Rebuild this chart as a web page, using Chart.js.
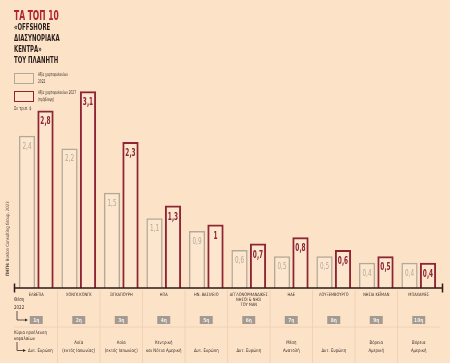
<!DOCTYPE html>
<html>
<head>
<meta charset="utf-8">
<script src="https://cdn.jsdelivr.net/npm/chart.js@4/dist/chart.umd.min.js"></script>
<style>
  html, body { margin: 0; padding: 0; background: #fce3c8; }
  #wrap { position: relative; width: 450px; height: 363px; overflow: hidden; }
  canvas { position: absolute; left: 0; top: 0; }
  .h { position: absolute; left: 14px; white-space: nowrap; transform-origin: 0 0;
       font-family: "DejaVu Sans", sans-serif; font-weight: bold; }
  .title { top: 7px; font-size: 14px; color: #b0232f; transform: scaleX(0.54); }
  .sub { font-size: 9px; color: #2b1d1a; transform: scaleX(0.6); line-height: 11px; }
  .leg { position: absolute; left: 38px; font-family: "DejaVu Sans", sans-serif; font-size: 5px;
         color: #3b2a25; line-height: 7px; transform: scaleX(0.57); transform-origin: 0 0; white-space: nowrap; }
  .box { position: absolute; left: 14px; width: 18px; height: 9px; }
  .unit { position: absolute; left: 14px; top: 105px; font-family: "DejaVu Sans", sans-serif;
          font-size: 5px; color: #3b2a25; transform: scaleX(0.7); transform-origin: 0 0; white-space: nowrap; }
  .src { position: absolute; left: 5px; top: 276px; font-family: "DejaVu Sans", sans-serif; font-size: 4.5px;
         color: #4a3a33; white-space: nowrap; transform: rotate(-90deg) scaleX(0.85); transform-origin: 0 0; }
</style>
</head>
<body>
<div id="wrap">
  <canvas id="c" width="450" height="363"></canvas>
  <div class="h title">ΤΑ ΤΟΠ 10</div>
  <div class="h sub" style="top:22px">«OFFSHORE</div>
  <div class="h sub" style="top:33px">ΔΙΑΣΥΝΟΡΙΑΚΑ</div>
  <div class="h sub" style="top:44px">ΚΕΝΤΡΑ»</div>
  <div class="h sub" style="top:55px">ΤΟΥ ΠΛΑΝΗΤΗ</div>
  <div class="box" style="top:73px;border:1.5px solid #b3a899"></div>
  <div class="leg" style="top:71px">Αξία χαρτοφυλακίων<br>2022</div>
  <div class="box" style="top:91px;border:1.5px solid #8e2434"></div>
  <div class="leg" style="top:89px">Αξία χαρτοφυλακίων 2027<br>(πρόβλεψη)</div>
  <div class="unit">Σε τρισ. $</div>
  <div class="src"><b>ΠΗΓΗ:</b> Boston Consulting Group, 2023</div>
</div>
<script>
const categories = [
  ['ΕΛΒΕΤΙΑ'], ['ΧΟΝΓΚ ΚΟΝΓΚ'], ['ΣΙΓΚΑΠΟΥΡΗ'], ['ΗΠΑ'], ['ΗΝ. ΒΑΣΙΛΕΙΟ'],
  ['ΑΓΓΛΟΝΟΡΜΑΝΔΙΚΕΣ', 'ΝΗΣΟΙ & ΝΗΣΙ', 'ΤΟΥ ΜΑΝ'], ['ΗΑΕ'], ['ΛΟΥΞΕΜΒΟΥΡΓΟ'],
  ['ΝΗΣΙΑ ΚΕΪΜΑΝ'], ['ΜΠΑΧΑΜΕΣ']
];
const values2022 = [2.4, 2.2, 1.5, 1.1, 0.9, 0.6, 0.5, 0.5, 0.4, 0.4];
const values2027 = [2.8, 3.1, 2.3, 1.3, 1.0, 0.7, 0.8, 0.6, 0.5, 0.4];
const ranks2022 = ['1η', '2η', '3η', '4η', '5η', '6η', '7η', '8η', '9η', '10η'];
const origins = [
  ['Δυτ. Ευρώπη'], ['Ασία', '(εκτός Ιαπωνίας)'], ['Ασία', '(εκτός Ιαπωνίας)'],
  ['Κεντρική', 'και Νότια Αμερική'], ['Δυτ. Ευρώπη'], ['Δυτ. Ευρώπη'],
  ['Μέση', 'Ανατολή'], ['Δυτ. Ευρώπη'], ['Βόρεια', 'Αμερική'], ['Βόρεια', 'Αμερική']
];

const GREY = '#b3a899';
const RED = '#8e2434';
const DARK = '#3b2a25';
const FONT = '"DejaVu Sans", sans-serif';

// squeezed text helper (the original uses a condensed face)
function txt(ctx, s, x, y, size, color, opts = {}) {
  ctx.save();
  ctx.font = (opts.bold ? 'bold ' : '') + size + 'px ' + FONT;
  ctx.fillStyle = color;
  ctx.textAlign = opts.align || 'center';
  ctx.textBaseline = 'middle';
  ctx.translate(x, y);
  ctx.scale(opts.sx || 0.75, 1);
  ctx.fillText(s, 0, 0);
  ctx.restore();
}

function arrow(ctx, x, y1, y2, x2) {
  ctx.save();
  ctx.strokeStyle = DARK; ctx.fillStyle = DARK; ctx.lineWidth = 0.8;
  ctx.beginPath(); ctx.moveTo(x, y1); ctx.lineTo(x, y2); ctx.lineTo(x2 - 2, y2); ctx.stroke();
  ctx.beginPath(); ctx.moveTo(x2, y2); ctx.lineTo(x2 - 3, y2 - 1.6); ctx.lineTo(x2 - 3, y2 + 1.6); ctx.closePath(); ctx.fill();
  ctx.restore();
}

const annotate = {
  id: 'annotate',
  beforeDatasetsDraw(chart) {
    const { ctx, chartArea: a } = chart;
    const xs = chart.scales.x;
    const step = (a.right - a.left) / categories.length;
    ctx.save();
    // column separators and row line under the axis
    ctx.strokeStyle = '#efcdb0'; ctx.lineWidth = 0.8;
    for (let i = 1; i < categories.length; i++) {
      const x = a.left + step * i;
      ctx.beginPath(); ctx.moveTo(x, a.bottom + 2); ctx.lineTo(x, 363); ctx.stroke();
    }
    ctx.beginPath(); ctx.moveTo(14, 327); ctx.lineTo(a.right, 327); ctx.stroke();
    ctx.restore();

    categories.forEach((lines, i) => {
      const cx = xs.getPixelForValue(i);
      lines.forEach((l, j) => txt(ctx, l, cx, 295 + j * 4.7, 4.6, DARK, { sx: 0.78 }));
      // rank boxes
      ctx.fillStyle = '#a39a92';
      ctx.fillRect(cx - 6.5, 316, 13, 8);
      txt(ctx, ranks2022[i], cx, 320.3, 5.5, '#f4ece4', { bold: true, sx: 0.8 });
      // origin
      const o = origins[i];
      if (i === 0) {
        txt(ctx, o[0], 28, 350.5, 4.8, DARK, { align: 'left', sx: 0.8 });
      } else if (o.length === 1) {
        txt(ctx, o[0], cx, 350.5, 4.8, DARK, { sx: 0.8 });
      } else {
        txt(ctx, o[0], cx, 343, 4.8, DARK, { sx: 0.8 });
        txt(ctx, o[1], cx, 350.5, 4.8, DARK, { sx: 0.8 });
      }
    });

    txt(ctx, 'Θέση', 14, 300, 5, DARK, { align: 'left', sx: 0.8 });
    txt(ctx, '2022', 14, 307.5, 5, DARK, { align: 'left', sx: 0.8 });
    arrow(ctx, 17, 311, 320, 28);
    txt(ctx, 'Κύρια προέλευση', 14, 332.5, 4.8, DARK, { align: 'left', sx: 0.8 });
    txt(ctx, 'κεφαλαίων', 14, 338.5, 4.8, DARK, { align: 'left', sx: 0.8 });
    arrow(ctx, 17, 342, 350.5, 26);
  },
  afterDatasetsDraw(chart) {
    const { ctx, chartArea: a } = chart;
    // baseline with end ticks
    ctx.save();
    ctx.strokeStyle = '#2a1a18'; ctx.lineWidth = 1.5;
    ctx.beginPath(); ctx.moveTo(14, a.bottom); ctx.lineTo(443, a.bottom); ctx.stroke();
    ctx.beginPath(); ctx.moveTo(14.5, a.bottom - 4.5); ctx.lineTo(14.5, a.bottom + 4.5);
    ctx.moveTo(442.5, a.bottom - 4.5); ctx.lineTo(442.5, a.bottom + 4.5); ctx.stroke();
    ctx.restore();
    // value labels inside the bar tops
    chart.data.datasets.forEach((ds, di) => {
      chart.getDatasetMeta(di).data.forEach((bar, i) => {
        const s = String(ds.data[i]).replace('.', ',');
        if (di === 0) txt(ctx, s, bar.x, bar.y + 10.5, 9.5, '#b3a899', { sx: 0.6 });
        else txt(ctx, s, bar.x, bar.y + 11.5, 10, RED, { bold: true, sx: 0.58 });
      });
    });
  }
};

new Chart(document.getElementById('c'), {
  type: 'bar',
  data: {
    labels: categories.map(c => c.join(' ')),
    datasets: [
      { label: 'Αξία χαρτοφυλακίων 2022', data: values2022, backgroundColor: 'rgba(255,255,255,0.12)',
        borderColor: GREY, borderWidth: 1.5 },
      { label: 'Αξία χαρτοφυλακίων 2027 (πρόβλεψη)', data: values2027, backgroundColor: 'rgba(255,255,255,0.12)',
        borderColor: RED, borderWidth: 2 }
    ]
  },
  options: {
    responsive: false,
    animation: false,
    devicePixelRatio: 1,
    categoryPercentage: 0.87,
    barPercentage: 0.88,
    layout: { padding: { left: 15, right: 10, top: 66, bottom: 75 } },
    scales: {
      x: { display: false },
      y: { display: false, min: 0, max: 3.5 }
    },
    plugins: { legend: { display: false }, tooltip: { enabled: false } }
  },
  plugins: [annotate]
});
</script>
</body>
</html>
